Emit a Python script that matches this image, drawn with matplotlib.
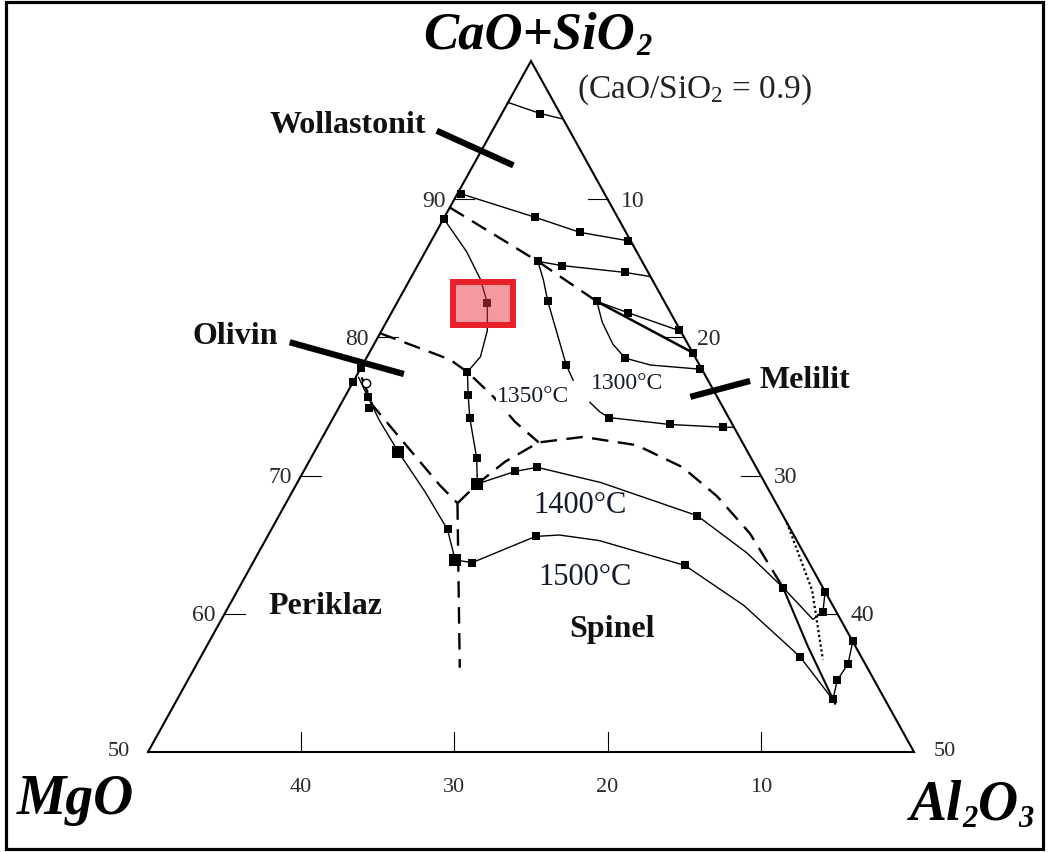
import numpy as np
import matplotlib
matplotlib.use("Agg")
import matplotlib.pyplot as plt
from matplotlib.patches import Rectangle

plt.rcParams['font.family'] = 'Liberation Serif'
plt.rcParams['mathtext.fontset'] = 'custom'
plt.rcParams['mathtext.rm'] = 'Liberation Serif'
plt.rcParams['mathtext.it'] = 'Liberation Serif:italic'

# compositions as (CaO+SiO2, Al2O3) in wt%, MgO is the remainder
iso_apex = [(97.0, 0.0), (96.2, 2.5), (95.8, 4.2)]
iso_90 = [(90.4, 0.2), (88.7, 5.9), (87.6, 9.4), (87.0, 12.8)]
bound_upper = [(89.4, 0.0), (85.5, 7.7), (82.6, 13.0)]
bound_upper_tail = [(82.6, 13.0), (78.9, 21.1)]
iso_85 = [(85.5, 7.7), (85.2, 9.4), (84.7, 13.8), (84.4, 15.6)]
iso_82 = [(82.6, 13.0), (81.8, 15.4), (80.5, 19.4)]
iso_1350 = [(85.5, 7.7), (84.2, 8.7), (82.6, 9.8), (78.0, 13.3), (76.9, 14.3)]
iso_1300 = [(82.6, 13.0), (81.1, 14.1), (79.5, 15.6), (78.5, 16.9), (78.0, 18.8), (77.7, 22.2)]
iso_mel = [(75.3, 16.2), (74.6, 17.2), (74.2, 18.0), (73.7, 22.2), (73.5, 25.8), (73.5, 26.5)]
wol_ol = [(88.6, 0.0), (86.2, 2.7), (84.2, 4.6), (82.5, 5.9), (80.5, 6.9), (78.6, 7.4), (77.5, 7.1)]
bound_1350 = [(80.3, 0.0), (79.3, 2.9), (78.4, 5.5), (77.5, 7.1), (75.7, 9.7), (73.9, 12.0), (72.4, 14.3)]
ol_mel = [(77.5, 7.1), (75.8, 8.0), (74.2, 8.9), (71.3, 10.8), (69.4, 11.8)]
bound_1400 = [(68.0, 11.2), (69.4, 11.8), (71.0, 12.8), (72.4, 14.3), (72.8, 17.0), (72.2, 20.8),
              (70.6, 24.6), (68.5, 27.9), (65.8, 31.4), (61.9, 35.5)]
bound_1400_tail = [(61.9, 35.5), (57.7, 39.2), (53.5, 43.1)]
iso_1400 = [(69.4, 11.8), (70.3, 13.8), (70.6, 15.1), (69.5, 19.8), (67.1, 27.3), (64.4, 31.9), (61.9, 35.5)]
iso_1500 = [(63.9, 13.1), (63.7, 14.3), (65.6, 17.5), (65.7, 19.0), (65.3, 21.8), (63.5, 28.3),
            (60.6, 33.6), (56.9, 39.1), (53.8, 42.8)]
per_ol = [(77.1, 0.2), (75.7, 1.5), (74.0, 3.1), (71.7, 5.5), (68.8, 8.7), (66.1, 11.5), (63.9, 13.1)]
per_ol_dash = [(77.1, 0.4), (75.1, 2.1), (71.6, 6.5), (69.3, 9.4), (68.0, 11.2)]
per_sp_dash = [(68.0, 11.2), (63.9, 13.3), (56.1, 17.3)]
sp_loop = [(58.0, 42.0), (56.4, 42.5), (55.2, 42.4), (53.8, 42.8)]
edge_pair = [(61.6, 38.4), (60.1, 39.0)]
mel_tie = [(61.9, 35.5), (59.6, 38.6), (60.1, 39.0)]
dotted = [(66.6, 33.4), (61.7, 37.5), (56.7, 40.7)]

points = [(96.2, 2.5), (90.4, 0.2), (88.7, 5.9), (87.6, 9.4), (87.0, 12.8), (88.6, 0.0),
          (85.5, 7.7), (85.2, 9.4), (84.7, 13.8), (82.6, 13.0), (81.8, 15.4), (80.5, 19.4),
          (78.9, 21.1), (82.6, 9.8), (78.0, 13.3), (78.5, 16.9), (77.7, 22.2), (74.2, 18.0),
          (73.7, 22.2), (73.5, 25.8), (82.5, 5.9), (77.5, 7.1), (75.8, 8.0), (74.2, 8.9),
          (71.3, 10.8), (70.3, 13.8), (70.6, 15.1), (67.1, 27.3), (61.9, 35.5), (63.7, 14.3),
          (65.6, 17.5), (63.5, 28.3), (56.9, 39.1), (53.8, 42.8), (75.7, 1.5), (74.9, 2.0),
          (66.1, 11.5), (77.8, 0.0), (76.8, 0.0), (58.0, 42.0), (56.4, 42.5), (55.2, 42.4),
          (61.6, 38.4), (60.1, 39.0)]
points_big = [(69.4, 11.8), (71.7, 5.5), (63.9, 13.1)]
open_point = [(76.7, 0.9)]

left_ticks = [90, 80, 70, 60]      # CaO+SiO2 along the MgO side
right_ticks = [10, 20, 30, 40]     # Al2O3 along the Al2O3 side
bottom_ticks = [40, 30, 20, 10]    # MgO along the base


def tern(pts):
    c = np.array([p[0] for p in pts], dtype=float)
    a = np.array([p[1] for p in pts], dtype=float)
    y = (c - 50) / 50
    return a / 50 + y / 2, y


fig = plt.figure(figsize=(10.49, 8.52), dpi=100)
ax = fig.add_axes([0, 0, 1, 1])
ax.set_xlim(-148 / 766, 901 / 766)
ax.set_ylim(-100 / 691, 752 / 691)
ax.axis('off')

# triangle
tx, ty = tern([(50, 0), (50, 50), (100, 0), (50, 0)])
ax.plot(tx, ty, color='k', lw=1.5, solid_joinstyle='miter')

thin = dict(color='k', lw=1.0)
dash = dict(color='k', lw=1.7, ls=(0, (7, 4)))


def line(pts, **kw):
    x, y = tern(pts)
    ax.plot(x, y, **kw)


for c in [iso_apex, iso_90, iso_85, iso_82, iso_1350, iso_1300, iso_mel, wol_ol,
          ol_mel, iso_1400, iso_1500, per_ol, sp_loop, edge_pair, mel_tie]:
    line(c, **thin)
for c in [bound_upper, bound_1350, bound_1400, per_ol_dash, per_sp_dash]:
    line(c, **dash)
line(bound_upper_tail, color='k', lw=1.8)
line(bound_1400_tail, color='k', lw=1.5)
line(dotted, color='k', lw=1.6, ls=(0, (1, 1.2)))

x, y = tern(points)
ax.plot(x, y, 's', color='k', ms=6.4, mew=0)
x, y = tern(points_big)
ax.plot(x, y, 's', color='k', ms=8.5, mew=0)
x, y = tern(open_point)
ax.plot(x, y, 'o', mfc='white', mec='k', ms=6, mew=1.0)

# axis ticks and numbers
tick = 20 / 766
tcol = '#2a2a2a'
for v in left_ticks:
    x, y = tern([(v, 0)])
    ax.plot([x[0], x[0] + tick], [y[0], y[0]], color='k', lw=0.8)
    ax.annotate(str(v), (x[0], y[0]), xytext=(-9, -2), textcoords='offset pixels',
                ha='right', va='center', fontsize=17, color=tcol)
for v in right_ticks:
    x, y = tern([(100 - v, v)])
    ax.plot([x[0] - tick, x[0]], [y[0], y[0]], color='k', lw=0.8)
    ax.annotate(str(v), (x[0], y[0]), xytext=(13, -2), textcoords='offset pixels',
                ha='left', va='center', fontsize=17, color=tcol)
for v in bottom_ticks:
    x, y = tern([(50, 50 - v)])
    ax.plot([x[0], x[0]], [y[0], y[0] + 20 / 691], color='k', lw=0.8)
    ax.annotate(str(v), (x[0], y[0]), xytext=(0, -36), textcoords='offset pixels',
                ha='center', va='center', fontsize=16, color=tcol)
ax.annotate('50', (0, 0), xytext=(-18, 0), textcoords='offset pixels',
            ha='right', va='center', fontsize=16, color=tcol)
ax.annotate('50', (1, 0), xytext=(20, 0), textcoords='offset pixels',
            ha='left', va='center', fontsize=16, color=tcol)

# component names, subscripts hung off the bottom of the preceding text
bi = dict(fontweight='bold', fontstyle='italic')
t = ax.text(0.0, 1.018, 'CaO+SiO', fontsize=38, ha='left', va='baseline', **bi)
fig.canvas.draw()
w = t.get_window_extent().width + 16
t.set_position((0.508 - w / 2 / 766, 1.018))
ax.annotate('2', xy=(1, 0), xycoords=t, xytext=(1, -2), textcoords='offset pixels',
            fontsize=22, ha='left', va='bottom', **bi)

ax.text(-0.095, -0.069, 'MgO', fontsize=40, ha='center', va='center', **bi)
al = ax.text(1.0 - 4 / 766, -0.098, 'Al', fontsize=40, ha='left', va='baseline', **bi)
s2 = ax.annotate('2', xy=(1, 0), xycoords=al, xytext=(0, -2), textcoords='offset pixels',
                 fontsize=22, ha='left', va='bottom', **bi)
o = ax.annotate('O', xy=(1, 0), xycoords=(s2, al), xytext=(0, 0), textcoords='offset pixels',
                fontsize=40, ha='left', va='bottom', **bi)
ax.annotate('3', xy=(1, 0), xycoords=o, xytext=(0, -2), textcoords='offset pixels',
            fontsize=22, ha='left', va='bottom', **bi)

ax.text(0.714, 0.958, r'(CaO/SiO$_2$ = 0.9)', fontsize=24, ha='center', va='center', color='#222')

# phase fields
bold = dict(fontsize=23, fontweight='bold', ha='center', va='center', color='#111')
ax.text(0.261, 0.907, 'Wollastonit', **bold)
ax.text(0.114, 0.601, 'Olivin', **bold)
ax.text(0.858, 0.538, 'Melilit', **bold)
ax.text(0.231, 0.210, 'Periklaz', **bold)
ax.text(0.606, 0.177, 'Spinel', **bold)

ax.plot([0.377, 0.477], [0.899, 0.849], color='k', lw=4.5, solid_capstyle='butt')
ax.plot([0.185, 0.334], [0.593, 0.547], color='k', lw=4.5, solid_capstyle='butt')
ax.plot([0.708, 0.786], [0.514, 0.537], color='k', lw=4.5, solid_capstyle='butt')

# isotherm labels
tc = '#141b2c'
ax.text(0.503, 0.514, '1350°C', fontsize=17, ha='center', va='center', color=tc,
        bbox=dict(fc='white', ec='none', pad=0.5))
ax.text(0.625, 0.533, '1300°C', fontsize=17, ha='center', va='center', color=tc)
ax.text(0.564, 0.357, '1400°C', fontsize=22, ha='center', va='center', color=tc)
ax.text(0.570, 0.253, '1500°C', fontsize=22, ha='center', va='center', color=tc)

# highlighted point
ax.add_patch(Rectangle((302 / 766 + 0.004, 0.614 + 0.004), 0.0862 - 0.008, 0.0695 - 0.008,
                       fc=(0.93, 0.2, 0.25), alpha=0.5, ec='none', zorder=5))
ax.add_patch(Rectangle((302 / 766 + 0.004, 0.614 + 0.004), 0.0862 - 0.008, 0.0695 - 0.008,
                       fc='none', ec='#e8202a', lw=4.3, zorder=6))

fig.patches.append(Rectangle((6 / 1049, 3 / 852), 1037 / 1049, 847 / 852,
                             transform=fig.transFigure, fill=False, ec='k', lw=2.3))

fig.savefig('out.png', dpi=100, facecolor='white')
